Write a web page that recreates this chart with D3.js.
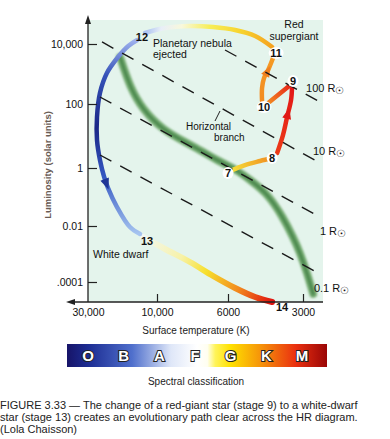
<!DOCTYPE html>
<html lang="en">
<head>
<meta charset="utf-8" />
<title>HR diagram - red giant to white dwarf</title>
<script src="https://d3js.org/d3.v7.min.js"></script>
<style>
    body { margin: 0; background: #fff; }
    svg text { font-family: "Liberation Sans", Arial, sans-serif; }
</style>
</head>
<body>
<svg width="390" height="439"></svg>
<script>
// ---- data (temperature K, luminosity in solar units) ----
var xTicks = [30000, 10000, 6000, 3000];
var xTickLabels = ["30,000", "10,000", "6000", "3000"];
var yTicks = [10000, 100, 1, 0.01, 0.0001];
var yTickLabels = ["10,000", "100", "1", "0.01", ".0001"];

var mainSequence = [[18000, 3690], [15400, 369], [12500, 65], [9580, 15.4], [8060, 6.04], [7340, 3.65],
    [6440, 1.66], [5520, 0.853], [4893, 0.386], [4182, 0.137], [3610, 0.0204], [3290, 0.00405],
    [3080, 0.00109], [2890, 0.00021], [2730, 0.0000373]];
var horizontalBranch = [[7450, 86], [3990, 86]];

var path7to8 = [[5890, 0.788], [5125, 1.24], [4460, 1.66], [3990, 2.05]];
var path8to9 = [[3810, 2.94], [3610, 10.7], [3475, 39.2], [3350, 136], [3320, 369]];
var path9to10 = [[3410, 398], [4140, 108]];
var path10to11 = [[4380, 126], [4380, 341], [4300, 736], [4140, 1360], [3958, 3410]];
var path11to12 = [[3990, 7940], [4670, 18500], [5620, 29300], [6680, 36800], [7890, 39800], [9440, 34100], [12100, 23300]];
var path12to13 = [[13700, 13600], [15800, 8580], [18600, 3690], [22200, 1080], [24800, 233], [26000, 39.2],
    [26000, 7.5], [24800, 1.78], [23200, 0.49], [21800, 0.204], [18900, 0.045], [15400, 0.0092], [13100, 0.00518]];
var path13to14 = [[12500, 0.00405], [9440, 0.00151], [7890, 0.000518], [6680, 0.000164], [5620, 0.0000611], [4670, 0.0000291], [3990, 0.0000193]];

var stageNames = ["7", "8", "9", "10", "11", "12", "13", "14"];
var stagePoints = [[6000, 0.67], [3990, 2.05], [3290, 584], [4300, 80.6], [3845, 5010], [12700, 17100], [11700, 0.00291], [3640, 0.0000128]];

var radiusNames = ["100", "10", "1", "0.1"];
var radiusStart = [[6130, 6310], [24000, 11700], [24800, 171], [24800, 2.55]];
var radiusEnd = [[2610, 126], [2565, 1.43], [2565, 0.0204], [2565, 0.000193]];

var spectralClasses = ["O", "B", "A", "F", "G", "K", "M"];

var svg = d3.select("svg");

// scales: the drawing is not uniformly logarithmic, so piecewise log scales
var x = d3.scaleLog().domain([30000, 10000, 6000, 3000]).range([88, 157, 228, 303]);
var y = d3.scaleLog().domain([10000, 100, 1, 0.01, 0.0001]).range([44, 104, 168, 226, 282]);

var defs = svg.append("defs");

var blur = defs.append("filter").attr("id", "soft").attr("x", "-20%").attr("y", "-20%").attr("width", "140%").attr("height", "140%");
blur.append("feGaussianBlur").attr("stdDeviation", 1.1);

// plot background
svg.append("rect")
    .attr("x", 88).attr("y", 20)
    .attr("width", 235).attr("height", 282)
    .attr("fill", "#e4f4ec");

var line = d3.line()
    .x(function (d) { return x(d[0]); })
    .y(function (d) { return y(d[1]); })
    .curve(d3.curveCatmullRom.alpha(0.5));

// main sequence band (smoothed)
var msLine = d3.line()
    .x(function (d) { return x(d[0]); })
    .y(function (d) { return y(d[1]); })
    .curve(d3.curveBasis);
svg.append("path")
    .attr("d", msLine(mainSequence))
    .attr("fill", "none")
    .attr("stroke", "#7fb27c")
    .attr("stroke-width", 8)
    .attr("stroke-linecap", "round")
    .attr("filter", "url(#soft)");
svg.append("path")
    .attr("d", msLine(mainSequence))
    .attr("fill", "none")
    .attr("stroke", "#4d8a50")
    .attr("stroke-width", 3.5)
    .attr("stroke-linecap", "round")
    .attr("filter", "url(#soft)");

// horizontal branch
var hbGrad = defs.append("linearGradient").attr("id", "hb")
    .attr("gradientUnits", "userSpaceOnUse")
    .attr("x1", x(horizontalBranch[0][0])).attr("x2", x(horizontalBranch[1][0]))
    .attr("y1", 0).attr("y2", 0);
hbGrad.append("stop").attr("offset", 0).attr("stop-color", "#9cc49a").attr("stop-opacity", 0.3);
hbGrad.append("stop").attr("offset", 0.5).attr("stop-color", "#5f985f");
hbGrad.append("stop").attr("offset", 0.8).attr("stop-color", "#3f7a45");
hbGrad.append("stop").attr("offset", 1).attr("stop-color", "#8fb98c").attr("stop-opacity", 0.6);
svg.append("path")
    .attr("d", line(horizontalBranch))
    .attr("stroke", "url(#hb)")
    .attr("stroke-width", 7)
    .attr("filter", "url(#soft)");

// constant radius lines
var rLines = svg.append("g").attr("class", "radius");
radiusNames.forEach(function (name, i) {
    var p0 = radiusStart[i], p1 = radiusEnd[i];
    rLines.append("line")
        .attr("x1", x(p0[0])).attr("y1", y(p0[1]))
        .attr("x2", x(p1[0])).attr("y2", y(p1[1]))
        .attr("stroke", "#1a1a1a")
        .attr("stroke-width", 1.4)
        .attr("stroke-dasharray", "13,10");
});

// evolutionary track, each piece with its own colour gradient
function track(id, data, stops, width) {
    var a = data[0], b = data[data.length - 1];
    var g = defs.append("linearGradient").attr("id", id)
        .attr("gradientUnits", "userSpaceOnUse")
        .attr("x1", x(a[0])).attr("y1", y(a[1]))
        .attr("x2", x(b[0])).attr("y2", y(b[1]));
    stops.forEach(function (s) {
        g.append("stop").attr("offset", s[0]).attr("stop-color", s[1]);
    });
    return svg.append("path")
        .attr("d", line(data))
        .attr("fill", "none")
        .attr("stroke", "url(#" + id + ")")
        .attr("stroke-width", width)
        .attr("stroke-linecap", "round");
}

function arrow(p, frac, color) {
    var node = p.node(), len = node.getTotalLength();
    var a = node.getPointAtLength(len * frac), b = node.getPointAtLength(len * frac + 1);
    var ang = Math.atan2(b.y - a.y, b.x - a.x) * 180 / Math.PI;
    svg.append("path")
        .attr("d", "M6,0L-5,-4.5L-5,4.5Z")
        .attr("fill", color)
        .attr("transform", "translate(" + a.x + "," + a.y + ") rotate(" + ang + ")");
}

var t13 = track("g1314", path13to14, [[0, "#f2f7f2"], [0.3, "#f7f2a8"], [0.5, "#f7df2c"], [0.75, "#f28a1e"], [1, "#e0120f"]], 6);
var t12 = track("g1213", path12to13, [[0, "#9fb2ee"], [0.18, "#3552b8"], [0.45, "#1a2787"], [0.7, "#3457c2"], [1, "#a6c4f0"]], 4.5);
var t11 = track("g1112", path11to12, [[0, "#f5a21f"], [0.25, "#f7d22e"], [0.5, "#f7ee55"], [0.72, "#f8f8dc"], [0.88, "#e8eef8"], [1, "#a8c0f0"]], 4.5);
var t7 = track("g78", path7to8, [[0, "#f6e43a"], [1, "#f08a1f"]], 4.5);
var t8 = track("g89", path8to9, [[0, "#ec3a18"], [1, "#e31717"]], 4.5);
var t9 = track("g910", path9to10, [[0, "#e8281a"], [1, "#f28c22"]], 4.5);
var t10 = track("g1011", path10to11, [[0, "#f28c22"], [1, "#f59a24"]], 4.5);

arrow(t8, 0.6, "#e01a16");
arrow(t10, 0.68, "#f07f1f");
arrow(t12, 0.72, "#1f3596");

// radius labels, drawn after the bands so nothing covers them
var rLabelOffset = [[-12, -9], [-7, -8], [0, 18], [-6, 18]];
radiusNames.forEach(function (name, i) {
    var p1 = radiusEnd[i];
    var t = rLines.append("text")
        .attr("x", x(p1[0]) + rLabelOffset[i][0])
        .attr("y", y(p1[1]) + rLabelOffset[i][1])
        .attr("font-size", 11)
        .attr("fill", "#111");
    t.append("tspan").text(name + " R");
    t.append("tspan").attr("font-size", 10).attr("dy", 2).text("\u2609");
});
rLines.raise();

// stage numbers
var stages = svg.append("g").attr("class", "stages");
stageNames.forEach(function (name, i) {
    var cx = x(stagePoints[i][0]), cy = y(stagePoints[i][1]);
    if (i < 5) {
        stages.append("ellipse")
            .attr("cx", cx).attr("cy", cy)
            .attr("rx", name.length > 1 ? 7.5 : 5.5).attr("ry", 6)
            .attr("fill", "#fff");
    }
    stages.append("text")
        .attr("x", cx).attr("y", cy)
        .attr("dy", "0.36em")
        .attr("text-anchor", "middle")
        .attr("font-size", 11)
        .attr("font-weight", "bold")
        .attr("fill", "#111")
        .text(name);
});

// annotations
function label(txt, px, py, anchor, size) {
    svg.append("text")
        .attr("x", px).attr("y", py)
        .attr("text-anchor", anchor || "start")
        .attr("font-size", size || 10.5)
        .attr("fill", "#111")
        .text(txt);
}
label("Planetary nebula", 153, 47);
label("ejected", 153, 58);
label("Red", 294, 28, "middle");
label("supergiant", 294, 40, "middle");
label("Horizontal", 186, 130, "start", 10);
label("branch", 214, 141, "start", 10);
label("White dwarf", 93, 258);
svg.append("line")
    .attr("x1", 220).attr("y1", 111).attr("x2", 215).attr("y2", 121)
    .attr("stroke", "#222").attr("stroke-width", 1);

// axes
var xAxis = d3.axisBottom(x)
    .tickValues(xTicks)
    .tickFormat(function (d, i) { return xTickLabels[i]; })
    .tickSizeInner(-8).tickSizeOuter(0).tickPadding(7);
var yAxis = d3.axisLeft(y)
    .tickValues(yTicks)
    .tickFormat(function (d, i) { return yTickLabels[i]; })
    .tickSizeInner(-9).tickSizeOuter(0).tickPadding(5);

var gx = svg.append("g").attr("transform", "translate(0,302)").call(xAxis);
var gy = svg.append("g").attr("transform", "translate(88,0)").call(yAxis);
[gx, gy].forEach(function (g) {
    g.select(".domain").remove();
    g.selectAll("line").attr("stroke", "#222").attr("stroke-width", 1.2);
    g.selectAll("text").attr("font-size", 10.5).attr("fill", "#111")
        .attr("font-family", "'Liberation Sans', Arial, sans-serif");
});
gx.selectAll(".tick").filter(function (d) { return d === 30000; }).select("line").remove();

svg.append("path").attr("d", "M88,302V22").attr("stroke", "#222").attr("stroke-width", 1.3);
svg.append("path").attr("d", "M74,302H323").attr("stroke", "#222").attr("stroke-width", 1.3);
svg.append("path").attr("d", "M88,15L85,24L91,24Z").attr("fill", "#222");
svg.append("path").attr("d", "M66,302L75,299L75,305Z").attr("fill", "#222");

svg.append("text")
    .attr("transform", "translate(51,165) rotate(-90)")
    .attr("text-anchor", "middle")
    .attr("font-size", 9.5)
    .attr("font-weight", "bold")
    .attr("fill", "#6a5c55")
    .text("Luminosity (solar units)");

svg.append("text")
    .attr("x", 196).attr("y", 334)
    .attr("text-anchor", "middle")
    .attr("font-size", 10)
    .attr("fill", "#222")
    .text("Surface temperature (K)");

// spectral classification bar
var spec = defs.append("linearGradient").attr("id", "spec");
[[0, "#171468"], [0.08, "#1c2c92"], [0.25, "#4f6fcc"], [0.4, "#dfe7f8"], [0.5, "#ffffff"], [0.54, "#fffef0"],
 [0.57, "#fff45a"], [0.63, "#ffe000"], [0.75, "#f5900a"], [0.88, "#ea3010"], [1, "#9a0606"]].forEach(function (s) {
    spec.append("stop").attr("offset", s[0]).attr("stop-color", s[1]);
});
svg.append("rect")
    .attr("x", 67).attr("y", 344)
    .attr("width", 260).attr("height", 23)
    .attr("fill", "url(#spec)");

var sx = d3.scalePoint().domain(spectralClasses).range([88, 302]);
svg.append("g").selectAll("text")
    .data(spectralClasses)
    .enter().append("text")
        .attr("x", function (d) { return sx(d); })
        .attr("y", 361)
        .attr("text-anchor", "middle")
        .attr("font-size", 15)
        .attr("font-weight", "bold")
        .attr("fill", "#fff")
        .attr("stroke", "#222")
        .attr("stroke-width", 2)
        .attr("paint-order", "stroke")
        .text(function (d) { return d; });

svg.append("text")
    .attr("x", 196).attr("y", 385)
    .attr("text-anchor", "middle")
    .attr("font-size", 10)
    .attr("fill", "#222")
    .text("Spectral classification");

// caption
var caption = [
    "FIGURE 3.33 \u2014 The change of a red-giant star (stage 9) to a white-dwarf",
    "star (stage 13) creates an evolutionary path clear across the HR diagram.",
    "(Lola Chaisson)"
];
svg.append("g").selectAll("text")
    .data(caption)
    .enter().append("text")
        .attr("x", 0)
        .attr("y", function (d, i) { return 409 + i * 12; })
        .attr("font-size", 11)
        .attr("fill", "#222")
        .text(function (d) { return d; });
</script>
</body>
</html>
